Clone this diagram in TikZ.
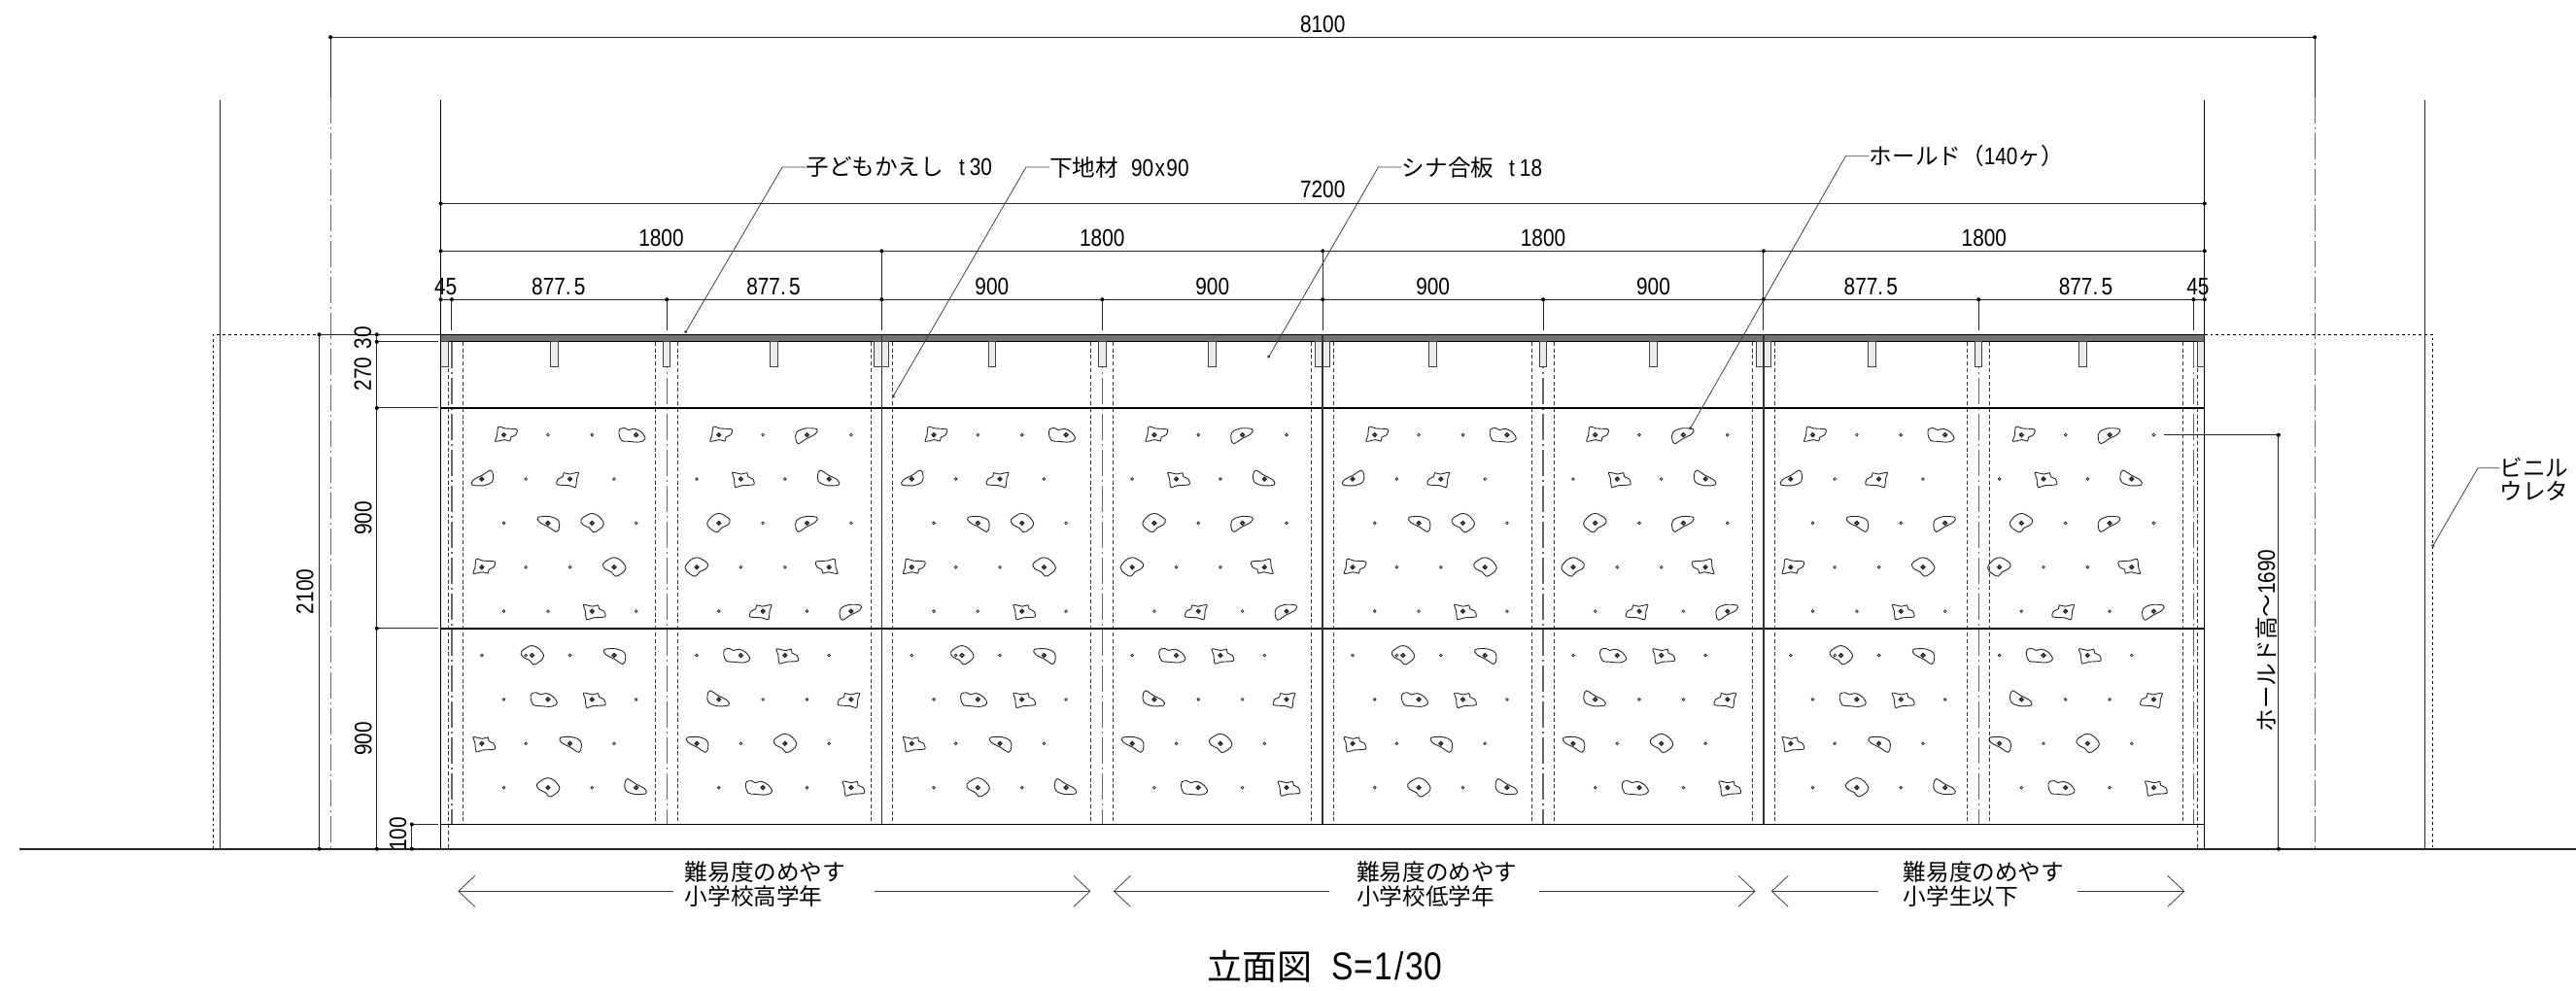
\documentclass[tikz,border=0pt]{standalone}
\usepackage{fontspec}
\usepackage{tikz}
\usetikzlibrary{positioning,arrows.meta}
\setmainfont{Noto Sans CJK JP}
\newfontfamily\dimfont[FakeStretch=0.84]{Liberation Sans}
\newcommand{\dimtxt}[1]{{\dimfont\fontsize{12.4}{12.4}\selectfont #1}}

\tikzset{
  pics/holdA/.style={code={
    \draw plot[smooth cycle,tension=.45] coordinates {(-17,25) (4,20) (40,17) (37,0) (22,-7) (19,-19) (2,-15) (-26,-20) (-21,-2)};
    \draw[holehold] (0,0) circle[radius=5.5];}},
  pics/holdB/.style={code={
    \draw plot[smooth cycle,tension=.6] coordinates {(-50,18) (-35,21) (-23,15) (-5,19) (17,8) (28,-12) (10,-22) (-25,-20) (-45,-17) (-53,3)};
    \draw[holehold] (0,0) circle[radius=5.5];}},
  pics/holdC/.style={code={
    \draw plot[smooth cycle,tension=.6] coordinates {(-32,8) (-7,20) (30,18) (26,3) (-2,-12) (-27,-27) (-35,-12)};
    \draw[holehold] (0,0) circle[radius=5.5];}},
  pics/holdD/.style={code={
    \draw plot[smooth cycle,tension=.7] coordinates {(0,30) (22,20) (36,-3) (22,-20) (4,-28) (-8,-15) (-28,-5) (-34,10) (-18,23)};
    \draw[holehold] (0,0) circle[radius=5.5];}},
  holehold/.style={line width=.7pt},
  noflip/.style={},
  flipx/.style={xscale=-1},
  flipy/.style={yscale=-1},
  turn/.style={rotate=180}
}

\newcommand{\placehold}[5]{%
  \pgfmathsetmacro{\hx}{#1+122.5+90*mod(#2,2)+180*#3}
  \pgfmathsetmacro{\hy}{1690-180*(#2-1)}
  \pic[scale=1.322,line width=.45pt,black!85,#5] at (\hx,\hy) {hold#4};
}

\begin{document}
\begin{tikzpicture}[x=0.12605pt,y=0.12605pt,
    dimtext/.style={inner sep=0pt,font=\dimfont\fontsize{12.4}{12.4}\selectfont},
    labeltext/.style={inner sep=0pt,font=\fontsize{11.8}{12.2}\selectfont,align=left},
    dimline/.style={line width=.5pt,black!85},
    leader/.style={line width=.4pt,black!75,{Circle[length=1.6pt]}-},
    openarrow/.style={line width=.5pt,black!75,-{Straight Barb[length=8.5pt,width=16pt,line width=.4pt]}},
    chainline/.style={line width=.6pt,black!60,dash pattern=on 13.5pt off 2pt on 1pt off 2pt},
    shortdash/.style={line width=.45pt,black!80,dash pattern=on 2pt off 1.4pt},
    dotline/.style={line width=.5pt,black,dash pattern=on 1.4pt off 1.5pt},
    stud/.style={draw=black!75,line width=.5pt,fill=black!8}]
  \useasboundingbox (-1799.3,-580.3) rectangle (8716.3,3465.7);

  % reference lines
  \draw[dimline] (-900,3059) -- (-900,0);
  \draw[dimline] (8100,3059) -- (8100,0);
  \draw[dimline] (-450,3314) -- (-450,3070);
  \draw[dimline] (7650,3314) -- (7650,3070);
  \draw[chainline] (-450,3070) -- (-450,0);
  \draw[chainline] (7650,3070) -- (7650,0);
  \draw[dotline] (-930,0) -- (-930,2100) -- (0,2100);
  \draw[dotline] (7200,2100) -- (8130,2100) -- (8130,0);

  % panel centre lines and edges
  \foreach \x in {45,922.5,2700,4500,6277.5,7155}
    \draw[chainline] (\x,2070) -- (\x,100);
  \foreach \x in {90,877.5,967.5,1755,1845,2655,2745,3555,3645,4455,4545,5355,5445,6232.5,6322.5,7110}
    \draw[shortdash] (\x,2070) -- (\x,100);
  \draw[shortdash] (30,2070) -- (30,0);
  \draw[shortdash] (7170,2070) -- (7170,0);

  % wall
  \draw[line width=.75pt] (0,1800) -- (7200,1800);
  \draw[line width=.75pt] (0,900) -- (7200,900);
  \draw[line width=.5pt] (0,100) -- (7200,100);
  \draw[line width=.9pt,black!85] (-1720,0) -- (8716,0);

  \fill[black!55] (0,2070) rectangle (7200,2100);
  \draw[line width=.55pt] (0,2100) -- (7200,2100);
  \draw[line width=.55pt] (0,2070) -- (7200,2070);
  \foreach \x/\w in {15/15,464/17,922.5/15,1361/16,1800/30,2250/15,2700/15,3150/15,3600/30,4050/15,4500/15,4950/15,5400/30,5843/15,6277.5/15,6703/15,7185/15}
    \draw[stud] (\x-\w,2070) rectangle (\x+\w,1970);
  \draw[line width=.7pt] (0,3059) -- (0,0);
  \draw[line width=.7pt] (7200,3059) -- (7200,0);
  \foreach \x in {1800,3600,5400}
    \draw[line width=.8pt,black!80] (\x,2100) -- (\x,100);

  % dimensions above
  \draw[dimline] (-450,3314) -- (7650,3314);
  \draw[dimline] (0,2635) -- (7200,2635);
  \draw[dimline] (0,2441) -- (7200,2441);
  \draw[dimline] (0,2243) -- (7200,2243);
  \foreach \x in {45,922.5,2700,4500,6277.5,7155}
    \draw[dimline] (\x,2243) -- (\x,2115);
  \foreach \x in {1800,3600,5400}
    \draw[dimline] (\x,2441) -- (\x,2115);
  \foreach \x in {0,45,922.5,1800,2700,3600,4500,5400,6277.5,7155,7200}
    \fill (\x,2243) circle[radius=8];
  \foreach \x in {0,1800,3600,5400,7200}
    \fill (\x,2441) circle[radius=8];
  \foreach \x/\y in {0/2635,7200/2635,-450/3314,7650/3314}
    \fill (\x,\y) circle[radius=8];

  \node[dimtext] (full) at (3600,3368) {8100};
  \node[dimtext] (wall) at (3600,2692) {7200};
  \foreach \x in {900,2700,4500,6300}
    \node[dimtext] (span\x) at (\x,2493) {1800};
  \foreach \x in {481,1358,5838,6715}
    \node[dimtext] (narrow\x) at (\x,2296) {877.\hspace{1.6pt}5};
  \foreach \x in {2250,3150,4050,4950}
    \node[dimtext] (wide\x) at (\x,2296) {900};
  \node[dimtext] (edgeleft) at (20,2296) {45};
  \node[dimtext] (edgeright) at (7173,2296) {45};

  % dimensions left
  \draw[dimline] (-496,2100) -- (-496,0);
  \draw[dimline] (-496,2100) -- (0,2100);
  \draw[dimline] (-261,2100) -- (-261,0);
  \foreach \y in {2070,1800,900}
    \draw[dimline] (-261,\y) -- (-10,\y);
  \draw[dimline] (-118,100) -- (-118,0);
  \draw[dimline] (-118,100) -- (-10,100);
  \foreach \x/\y in {-496/2100,-496/0,-261/2100,-261/2070,-261/1800,-261/900,-261/0,-118/100,-118/0}
    \fill (\x,\y) circle[radius=8];
  \node[dimtext,rotate=90] (height) at (-554,1050) {2100};
  \node[dimtext,rotate=90] (top30) at (-318,2087) {30};
  \node[dimtext,rotate=90] (top270) at (-318,1938) {270};
  \node[dimtext,rotate=90] (upper900) at (-316,1350) {900};
  \node[dimtext,rotate=90] (lower900) at (-316,450) {900};
  \node[dimtext,rotate=90] (base100) at (-175,60) {100};

  % dimension right
  \draw[dimline] (7035,1690) -- (7502,1690) -- (7502,0);
  \fill (7502,1690) circle[radius=8];
  \fill (7502,0) circle[radius=8];
  \node[labeltext,rotate=90,inner sep=0pt] (holdheight) at (7451,850) {ホールド高～\dimtxt{1690}};

  % holes
  \foreach \start in {45,922.5,1800,2700,3600,4500,5388,6240}
    \foreach \row in {1,...,9}
      \foreach \col in {0,...,3} {
        \pgfmathsetmacro{\hx}{\start+122.5+90*mod(\row,2)+180*\col}
        \pgfmathsetmacro{\hy}{1690-180*(\row-1)}
        \draw[line width=.4pt,black!80] (\hx,\hy) circle[radius=5.5];
      }

  % holds
  \foreach \start in {45,1800,3600,5388}
    \foreach \row/\col/\sh/\flip in {1/0/A/noflip,1/3/B/noflip,2/0/C/turn,2/2/A/turn,3/1/C/flipx,4/0/A/noflip,4/3/D/noflip,5/2/A/flipy,
        6/1.14/D/noflip,6/3/C/flipx,7/1/B/noflip,7/2/A/flipy,8/0/A/flipy,8/2/C/flipx,9/1/D/noflip,9/3/C/flipy} {
      \placehold{\start}{\row}{\col}{\sh}{\flip}
    }
  \foreach \start in {45,1800,3600} {
    \placehold{\start}{3}{2}{D}{noflip}
  }
  \placehold{5388}{3}{3}{C}{noflip}
  \foreach \start in {922.5,2700,4500,6240}
    \foreach \row/\col/\sh/\flip in {1/0/A/noflip,1/2/C/noflip,2/1/A/flipy,2/3/C/flipy,3/0/D/flipx,3/2/C/noflip,4/0/D/flipx,4/3/A/flipx,5/1/A/turn,5/3/C/noflip,
        6/1/B/noflip,6/2/A/flipy,7/0/C/flipy,7/3/A/turn,8/0/C/flipx,8/2/D/noflip,9/1/B/noflip,9/3/A/flipy} {
      \placehold{\start}{\row}{\col}{\sh}{\flip}
    }

  % leaders
  \coordinate (kneecover) at (1394,2783);
  \coordinate (tipcover) at (997,2105);
  \node[labeltext] (cover) [right=12pt of kneecover] {子どもかえし\hspace{8pt}\dimtxt{t\kern2.5pt 30}};
  \draw[leader] (tipcover) -- (kneecover) -- (cover.west);
  \coordinate (kneeframe) at (2389,2783);
  \coordinate (tipframe) at (1844,1843);
  \node[labeltext] (frame) [right=12pt of kneeframe] {下地材\hspace{6.5pt}\dimtxt{90\kern.7pt x\kern.7pt 90}};
  \draw[leader] (tipframe) -- (kneeframe) -- (frame.west);
  \coordinate (kneeply) at (3827,2783);
  \coordinate (tipply) at (3377,2004);
  \node[labeltext] (ply) [right=12pt of kneeply] {シナ合板\hspace{8pt}\dimtxt{t\kern2.5pt 18}};
  \draw[leader] (tipply) -- (kneeply) -- (ply.west);
  \coordinate (kneehold) at (5735,2828);
  \coordinate (tiphold) at (5098,1712);
  \node[labeltext] (holds) [right=12pt of kneehold] {ホールド（\dimtxt{140}ヶ）};
  \draw[leader] (tiphold) -- (kneehold) -- (holds.west);
  \coordinate (kneeside) at (8316,1555);
  \coordinate (tipside) at (8129,1232);
  \coordinate (endside) at (8405,1555);
  \node[labeltext] (side) [right=11pt of kneeside,yshift=-5.8pt] {ビニル\\ウレタ};
  \draw[leader] (tipside) -- (kneeside) -- (endside);

  % grades
  \coordinate (g1l) at (949,-173);
  \coordinate (g1r) at (1771,-173);
  \coordinate (g1a) at (70,-173);
  \coordinate (g1b) at (2653,-173);
  \draw[openarrow] (g1l) -- (g1a);
  \draw[openarrow] (g1r) -- (g1b);
  \node[labeltext,anchor=west] (grade1) at (995,-144) {難易度のめやす\\小学校高学年};
  \coordinate (g2l) at (3627,-173);
  \coordinate (g2r) at (4483,-173);
  \coordinate (g2a) at (2746,-173);
  \coordinate (g2b) at (5367,-173);
  \draw[openarrow] (g2l) -- (g2a);
  \draw[openarrow] (g2r) -- (g2b);
  \node[labeltext,anchor=west] (grade2) at (3738,-144) {難易度のめやす\\小学校低学年};
  \coordinate (g3l) at (5869,-173);
  \coordinate (g3r) at (6681,-173);
  \coordinate (g3a) at (5431,-173);
  \coordinate (g3b) at (7119,-173);
  \draw[openarrow] (g3l) -- (g3a);
  \draw[openarrow] (g3r) -- (g3b);
  \node[labeltext,anchor=west] (grade3) at (5969,-144) {難易度のめやす\\小学生以下};

  % title
  \node[inner sep=0pt,anchor=west,font=\fontsize{18}{18}\selectfont] (title) at (3126,-481) {立面図\hspace{10pt}{\dimfont\fontsize{20}{20}\selectfont S\kern.5pt =\kern.5pt 1\kern1.2pt /\kern1.2pt 30}};
\end{tikzpicture}
\end{document}
